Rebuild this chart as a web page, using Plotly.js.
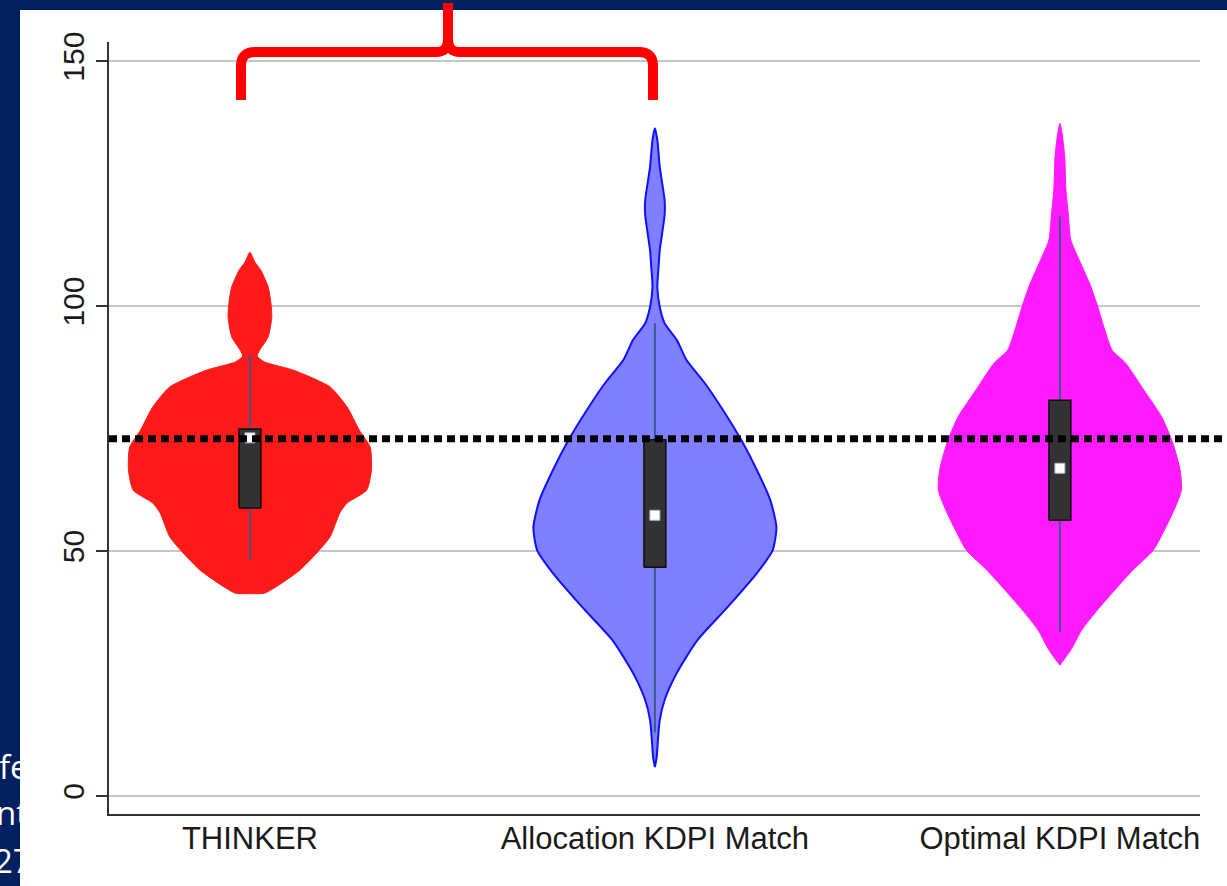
<!DOCTYPE html>
<html>
<head>
<meta charset="utf-8">
<script src="https://cdn.plot.ly/plotly-3.0.1.min.js"></script>
<style>html,body{margin:0;padding:0;background:#002060;}#chart{width:1227px;height:886px;}</style>
</head>
<body>
<div id="chart"></div>
<script>
// ---------- data ----------
var categories = ["THINKER", "Allocation KDPI Match", "Optimal KDPI Match"];
var yTicks = [0, 50, 100, 150];

// violin outlines: value and relative density (1 = widest point)
var thinkerY       = [111.0, 109.0, 107.3, 103.9, 101.2, 97.8, 93.7, 91.0, 89.8, 88.6, 86.9, 83.5, 79.4, 74.7, 71.2, 66.5, 62.4, 59.8, 57.8, 52.9, 49.6, 46.1, 43.1, 41.4, 41.3];
var thinkerDensity = [0, 0.04, 0.09, 0.15, 0.17, 0.18, 0.15, 0.08, 0.06, 0.12, 0.36, 0.66, 0.80, 0.90, 0.99, 1.00, 0.96, 0.80, 0.74, 0.66, 0.55, 0.41, 0.24, 0.12, 0];

var allocY       = [136.3, 133.9, 128.4, 121.6, 118.6, 114.9, 111.4, 108.0, 103.9, 99.8, 96.5, 93.1, 89.0, 84.3, 78.8, 72.7, 66.5, 60.4, 54.9, 50.2, 45.5, 38.6, 31.8, 25.1, 19.6, 15.5, 11.4, 8.0, 5.9];
var allocDensity = [0, 0.02, 0.04, 0.08, 0.08, 0.06, 0.04, 0.03, 0.02, 0.04, 0.08, 0.18, 0.26, 0.41, 0.56, 0.71, 0.84, 0.95, 1.00, 0.97, 0.84, 0.60, 0.35, 0.18, 0.08, 0.04, 0.025, 0.015, 0];

var optimalY       = [137.3, 134.9, 130.4, 123.7, 118.6, 113.5, 108.8, 104.3, 100.0, 95.1, 91.0, 88.4, 82.9, 77.3, 72.0, 66.5, 62.4, 58.4, 54.3, 50.2, 46.1, 42.0, 38.0, 33.9, 29.8, 26.7];
var optimalDensity = [0, 0.02, 0.04, 0.05, 0.07, 0.09, 0.17, 0.25, 0.31, 0.37, 0.43, 0.54, 0.69, 0.84, 0.93, 0.99, 1.00, 0.94, 0.86, 0.77, 0.60, 0.45, 0.31, 0.18, 0.09, 0];

// box summaries
var q1Values      = [58.8, 46.7, 56.3];
var medianValues  = [73.1, 57.3, 66.9];
var q3Values      = [74.9, 72.7, 80.8];
var whiskerLow    = [48.2, 13.0, 33.5];
var whiskerHigh   = [90.0, 96.5, 118.3];

var referenceLine = 72.9;

// ---------- styles ----------
var violinFill  = ["#ff1a1a", "#7f7fff", "#ff1aff"];
var violinLine  = ["#ff1a1a", "#1010ff", "#ff1aff"];
var violinLineW = [1, 2, 1];
var maxHalfWidth = 0.30;
var boxHalfWidth = 0.027;
var fontFam = "Liberation Sans, Arial, sans-serif";

var profiles = [
  {y: thinkerY, d: thinkerDensity},
  {y: allocY, d: allocDensity},
  {y: optimalY, d: optimalDensity}
];

var traces = [];
profiles.forEach(function (p, i) {
  var xs = [], ys = [];
  for (var k = 0; k < p.y.length; k++) { xs.push(i + p.d[k] * maxHalfWidth); ys.push(p.y[k]); }
  for (var k2 = p.y.length - 1; k2 >= 0; k2--) { xs.push(i - p.d[k2] * maxHalfWidth); ys.push(p.y[k2]); }
  traces.push({
    type: "scatter", mode: "lines", x: xs, y: ys, fill: "toself",
    fillcolor: violinFill[i], line: {color: violinLine[i], width: violinLineW[i], shape: "spline", smoothing: 0.6},
    hoverinfo: "skip", showlegend: false
  });
});

// whiskers
categories.forEach(function (c, i) {
  traces.push({
    type: "scatter", mode: "lines", x: [i, i], y: [whiskerLow[i], whiskerHigh[i]],
    line: {color: "#3c5a8a", width: 2}, hoverinfo: "skip", showlegend: false
  });
});

// boxes (q1..q3)
categories.forEach(function (c, i) {
  traces.push({
    type: "scatter", mode: "lines",
    x: [i - boxHalfWidth, i + boxHalfWidth, i + boxHalfWidth, i - boxHalfWidth, i - boxHalfWidth],
    y: [q1Values[i], q1Values[i], q3Values[i], q3Values[i], q1Values[i]],
    fill: "toself", fillcolor: "#333333", line: {color: "#0d0d0d", width: 1.5},
    hoverinfo: "skip", showlegend: false
  });
});

// medians
traces.push({
  type: "scatter", mode: "markers", x: [0, 1, 2], y: medianValues,
  marker: {symbol: "square", size: 10, color: "#ffffff", line: {color: "#a8b4d0", width: 1}},
  hoverinfo: "skip", showlegend: false
});

// ---------- layout helpers (pixel -> paper) ----------
var W = 1227, H = 886, mL = 109, mR = 27, mT = 42, mB = 72;
var pw = W - mL - mR, ph = H - mT - mB;
function px(x) { return (x - mL) / pw; }
function py(y) { return (H - mB - y) / ph; }

var bracketPath =
  "M " + px(241) + "," + py(100) + " L " + px(241) + "," + py(66) +
  " Q " + px(241) + "," + py(52) + " " + px(255) + "," + py(52) +
  " L " + px(436) + "," + py(52) +
  " Q " + px(448) + "," + py(52) + " " + px(448) + "," + py(40) +
  " L " + px(448) + "," + py(3) +
  " M " + px(448) + "," + py(40) +
  " Q " + px(448) + "," + py(52) + " " + px(460) + "," + py(52) +
  " L " + px(639) + "," + py(52) +
  " Q " + px(653) + "," + py(52) + " " + px(653) + "," + py(66) +
  " L " + px(653) + "," + py(100);

var sideFont = {family: "Open Sans, sans-serif", size: 33, color: "#ffffff"};

var layout = {
  width: W, height: H,
  margin: {l: mL, r: mR, t: mT, b: mB, pad: 0},
  paper_bgcolor: "#002060",
  plot_bgcolor: "rgba(0,0,0,0)",
  showlegend: false,
  font: {family: fontFam, color: "#1a1a1a", size: 30},
  xaxis: {
    range: [-0.348, 2.346], tickvals: [0, 1, 2], ticktext: categories,
    showgrid: false, zeroline: false, showline: true, linecolor: "#333333", linewidth: 2,
    ticks: "", ticklabelstandoff: -4,
    tickfont: {family: fontFam, size: 31, color: "#1a1a1a"}, fixedrange: true
  },
  yaxis: {
    range: [-3.67, 153.9], tickvals: yTicks, ticktext: yTicks.map(String),
    showgrid: true, gridcolor: "#c6c6c6", gridwidth: 2, zeroline: false,
    showline: true, linecolor: "#333333", linewidth: 2,
    ticks: "outside", ticklen: 11, tickwidth: 2, tickcolor: "#333333",
    tickangle: -90, tickfont: {family: fontFam, size: 30, color: "#1a1a1a"}, fixedrange: true
  },
  shapes: [
    {type: "rect", xref: "paper", yref: "paper", x0: px(20), x1: px(1227), y0: py(886), y1: py(10),
     fillcolor: "#ffffff", line: {width: 0}, layer: "below"},
    {type: "line", xref: "paper", yref: "y", x0: 0, x1: px(1222), y0: referenceLine, y1: referenceLine,
     line: {color: "#000000", width: 7, dash: "8px,5px"}, layer: "above"},
    {type: "path", xref: "paper", yref: "paper", path: bracketPath,
     line: {color: "#ff0000", width: 10}, layer: "above"}
  ],
  annotations: [
    {xref: "paper", yref: "paper", x: px(-3), y: py(766), xanchor: "left", yanchor: "middle",
     text: "fe", showarrow: false, font: sideFont},
    {xref: "paper", yref: "paper", x: px(-6), y: py(812), xanchor: "left", yanchor: "middle",
     text: "nt", showarrow: false, font: sideFont},
    {xref: "paper", yref: "paper", x: px(-8), y: py(860), xanchor: "left", yanchor: "middle",
     text: "27", showarrow: false, font: sideFont}
  ]
};

Plotly.newPlot("chart", traces, layout, {displayModeBar: false, staticPlot: true});
</script>
</body>
</html>
